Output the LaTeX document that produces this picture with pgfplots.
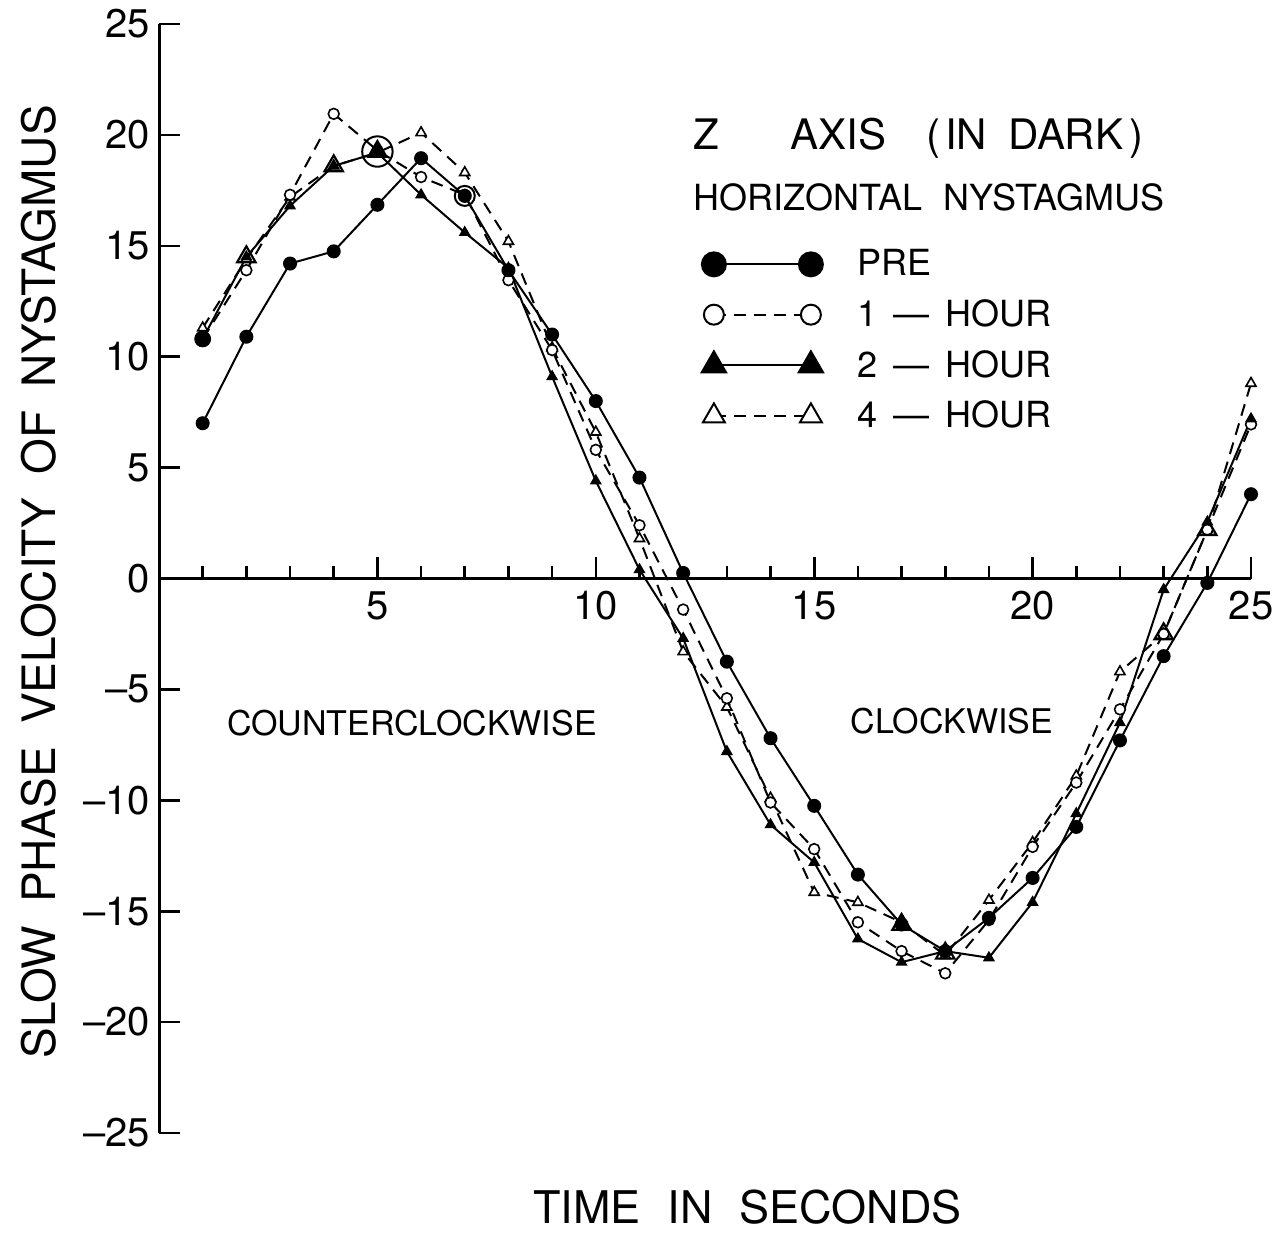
\documentclass[border=0pt]{standalone}
\usepackage{fontspec}
\setmainfont{TeX Gyre Heros}
\usepackage{pgfplots}
\usepackage{pgfplotstable}
\pgfplotsset{compat=1.18}
\pgfplotsset{twomark legend/.style={legend image code/.code={%
  \draw[##1, mark repeat=2, mark phase=1] plot coordinates {(0bp,0bp) (24bp,0bp) (48.5bp,0bp)};}}}

\pgfplotstableread{
x  PRE    H1     H2     H4
1  7.0    10.8   10.8   11.3
2  10.9   13.9   14.5   14.4
3  14.2   17.3   16.8   17.2
4  14.75  20.95  18.6   18.6
5  16.85  19.3   19.2   19.2
6  18.95  18.1   17.3   20.1
7  17.25  17.3   15.6   18.3
8  13.9   13.45  14.0   15.2
9  11.0   10.3   9.1    10.4
10 8.0    5.8    4.4    6.6
11 4.55   2.4    0.4    1.8
12 0.25   -1.4   -2.7   -3.3
13 -3.75  -5.4   -7.8   -5.8
14 -7.2   -10.1  -11.1  -9.9
15 -10.25 -12.2  -12.8  -14.15
16 -13.35 -15.5  -16.25 -14.6
17 -15.6  -16.8  -17.3  -15.5
18 -16.8  -17.8  -16.8  -17.0
19 -15.3  -15.4  -17.1  -14.5
20 -13.5  -12.1  -14.6  -11.9
21 -11.2  -9.2   -10.6  -8.9
22 -7.3   -5.9   -6.5   -4.2
23 -3.5   -2.5   -0.5   -2.5
24 -0.2   2.2    2.55   2.2
25 3.8    6.95   7.2    8.8
}\datatable

% coincident points drawn with enlarged markers
\pgfplotstableread{
x  y
2  14.5
4  18.6
17 -15.6
18 -16.9
23 -2.5
24 2.2
}\bigtri

\begin{document}
\begin{tikzpicture}
\useasboundingbox (0,0) rectangle (642bp,618bp);
\begin{axis}[
  at={(79.5bp,51.5bp)}, anchor=south west,
  scale only axis, width=546bp, height=554.5bp,
  xmin=0, xmax=25, ymin=-25, ymax=25,
  axis x line=middle, axis y line=left,
  axis line style={-, line width=1.5bp},
  xtick={5,10,15,20,25},
  minor xtick={1,2,3,4,6,7,8,9,11,12,13,14,16,17,18,19,21,22,23,24},
  ytick={-25,-20,...,25},
  yticklabels={--25,--20,--15,--10,--5,0,5,10,15,20,25},
  xticklabels={5,10,15,20,25},
  tick align=inside,
  major tick length=10.5bp, minor tick length=6bp,
  tick style={line width=1.3bp, black},
  minor tick style={line width=1.3bp, black},
  ticklabel style={font=\fontsize{20bp}{24bp}\selectfont},
  x tick label style={yshift=-3bp},
  y tick label style={xshift=-1bp},
  clip=false,
  xlabel={TIME\hspace{0.6em}IN\hspace{0.6em}SECONDS},
  ylabel={SLOW\hspace{0.5em}PHASE\hspace{0.5em}VELOCITY\hspace{0.5em}OF\hspace{0.5em}NYSTAGMUS},
  every axis x label/.style={at={(axis description cs:0.539,-0.067)}, anchor=center, inner sep=0pt, font=\fontsize{22.5bp}{25bp}\selectfont},
  every axis y label/.style={at={(axis description cs:-0.110,0.497)}, anchor=center, rotate=90, font=\fontsize{23bp}{28bp}\selectfont},
  legend style={draw=none, fill=none, at={(axis cs:12.28,15.2)}, anchor=north west,
    font=\fontsize{18bp}{21bp}\selectfont, row sep=6.4bp,
    /tikz/every odd column/.append style={column sep=15bp}},
  legend cell align=left,
]
% 4-hour
\addplot[forget plot, black, line width=1bp, dash pattern=on 6bp off 4bp,
  mark=triangle*, mark size=2.9bp, mark options={solid, fill=white, line width=0.8bp}]
  table[x=x, y=H4] {\datatable};
% 1-hour
\addplot[forget plot, black, line width=1bp, dash pattern=on 6bp off 4bp,
  mark=*, mark size=2.7bp, mark options={solid, fill=white, line width=0.8bp}]
  table[x=x, y=H1] {\datatable};
% 2-hour
\addplot[forget plot, black, line width=1bp,
  mark=triangle*, mark size=2.5bp, mark options={solid, fill=black}]
  table[x=x, y=H2] {\datatable};
% pre
\addplot[forget plot, black, line width=1bp,
  mark=*, mark size=3bp, mark options={solid, fill=black}]
  table[x=x, y=PRE] {\datatable};
% enlarged coincident markers
\addplot[forget plot, only marks, mark=triangle, mark size=5.3bp,
  mark options={line width=1.1bp, black}] table[x=x, y=y] {\bigtri};
\addplot[forget plot, only marks, mark=o, mark size=7.6bp,
  mark options={line width=1bp, black}] coordinates {(5,19.25)};
\addplot[forget plot, only marks, mark=triangle*, mark size=5.3bp,
  mark options={line width=1bp, black, fill=black}] coordinates {(5,19.25)};
\addplot[forget plot, only marks, mark=o, mark size=5bp,
  mark options={line width=1bp, black}] coordinates {(7,17.25)};
\addplot[forget plot, only marks, mark=*, mark size=4bp,
  mark options={black, fill=black}] coordinates {(1,10.8)};

% legend entries
\addlegendimage{black, line width=1bp, mark=*, mark size=6bp, mark options={solid, fill=black}, twomark legend}
\addlegendentry{PRE}
\addlegendimage{black, line width=1bp, dash pattern=on 6bp off 4bp, mark=*, mark size=5bp, mark options={solid, fill=white, line width=1bp}, twomark legend}
\addlegendentry{1\hspace{0.45em}---\hspace{0.45em}HOUR}
\addlegendimage{black, line width=1bp, mark=triangle*, mark size=7bp, mark options={solid, fill=black}, twomark legend}
\addlegendentry{2\hspace{0.45em}---\hspace{0.45em}HOUR}
\addlegendimage{black, line width=1bp, dash pattern=on 6bp off 4bp, mark=triangle*, mark size=6.3bp, mark options={solid, fill=white, line width=1bp}, twomark legend}
\addlegendentry{4\hspace{0.45em}---\hspace{0.45em}HOUR}

\node[anchor=west, font=\fontsize{21bp}{25bp}\selectfont, inner sep=0pt] at (axis cs:12.23,19.85)
  {Z\hspace{1.7em}AXIS\hspace{0.95em}(\hspace{0.12em}IN\hspace{0.5em}DARK\hspace{0.15em})};
\node[anchor=west, font=\fontsize{18bp}{22bp}\selectfont, inner sep=0pt] at (axis cs:12.23,17.2)
  {HORIZONTAL\hspace{0.6em}NYSTAGMUS};
\node[anchor=center, font=\fontsize{17bp}{20bp}\selectfont, inner sep=0pt] at (axis cs:5.79,-6.5)
  {COUNTERCLOCKWISE};
\node[anchor=center, font=\fontsize{17bp}{20bp}\selectfont, inner sep=0pt] at (axis cs:18.15,-6.45)
  {CLOCKWISE};
\end{axis}
\end{tikzpicture}
\end{document}
